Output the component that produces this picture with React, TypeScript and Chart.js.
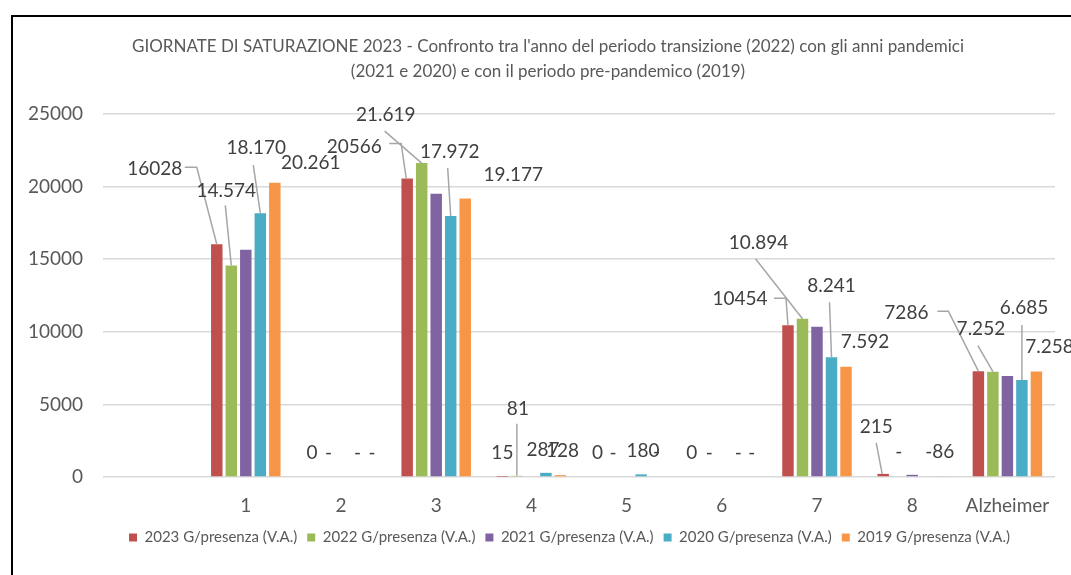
import React, { useEffect, useRef } from "react";
import { Chart, registerables } from "chart.js";

Chart.register(...registerables);

const categories = ["", "1", "2", "3", "4", "5", "6", "7", "8", "Alzheimer"];
const seriesNames = [
  "2023 G/presenza (V.A.)",
  "2022 G/presenza (V.A.)",
  "2021 G/presenza (V.A.)",
  "2020 G/presenza (V.A.)",
  "2019 G/presenza (V.A.)",
];
const values2023 = [null, 16028, 0, 20566, 15, 0, 0, 10454, 215, 7286];
const values2022 = [null, 14574, 0, 21619, 81, 0, 0, 10894, 0, 7252];
const values2021 = [null, 15650, 0, 19500, 0, 0, 0, 10350, 150, 6950];
const values2020 = [null, 18170, 0, 17972, 287, 180, 0, 8241, -86, 6685];
const values2019 = [null, 20261, 0, 19177, 128, 0, 0, 7592, 60, 7258];
const yTicks = [0, 5000, 10000, 15000, 20000, 25000];
const titleLines = [
  "GIORNATE DI SATURAZIONE 2023 - Confronto tra l'anno del periodo transizione (2022) con gli anni pandemici",
  "(2021 e 2020) e con il periodo pre-pandemico (2019)",
];
const colors = ["#C0504D", "#9BBB59", "#8064A2", "#4BACC6", "#F79646"];

// which points carry a data label (per series, per category)
const labelShown = [
  [false, true, true, true, true, true, true, true, true, true],
  [false, true, true, true, true, true, true, true, true, true],
  [false, false, false, false, false, false, false, false, false, false],
  [false, true, true, true, true, true, true, true, true, true],
  [false, true, true, true, true, true, true, true, false, true],
];

// label centre offsets from the bar end [dx, dy]
const labelOffsets: Record<number, Record<number, [number, number]>> = {
  0: { 1: [-62, -75], 2: [0, -24], 3: [-53, -32], 4: [0, -24], 5: [0, -24], 6: [-1, -24], 7: [-48, -26], 8: [-7, -47], 9: [-72, -58] },
  1: { 1: [-5, -75], 2: [2, -24], 3: [-36, -48], 4: [1, -67], 5: [1, -24], 6: [2, -24], 7: [-44, -76], 8: [1, -25], 9: [-12, -43] },
  3: { 1: [-4, -65], 2: [2, -24], 3: [-1, -64], 4: [-3, -23], 5: [2, -24], 6: [2, -24], 7: [0, -71], 8: [13, -26], 9: [2, -72] },
  4: { 1: [36, -20], 2: [2, -24], 3: [48, -24], 4: [2, -24], 5: [1, -25], 6: [1, -24], 7: [19, -25], 9: [13, -25] },
};

// leader lines: points relative to the bar end, ending at the bar
const leaders: Record<number, Record<number, [number, number][]>> = {
  0: { 1: [[-32, -77], [-20, -77], [0, 0]], 3: [[-18, -35], [-6, -35], [-1, 0]], 7: [[-14, -27], [-2, -27], [0, 0]], 8: [[-7, -31], [-1, 0]], 9: [[-41, -60], [-30, -60], [0, 0]] },
  1: { 1: [[-6, -60], [0, 0]], 3: [[-37, -32], [0, 0]], 4: [[0, -52], [0, 0]], 7: [[-47, -60], [0, 0]], 9: [[-15, -26], [0, 0]] },
  3: { 1: [[-7, -48], [0, 0]], 3: [[-3, -48], [0, 0]], 7: [[-2, -55], [0, 0]], 9: [[0, -55], [0, 0]] },
};

function fmtPlain(v: number) {
  return String(v);
}
function fmtAccounting(v: number) {
  if (v === 0) return "-";
  const s = Math.abs(v).toString().replace(/\B(?=(\d{3})+(?!\d))/g, ".");
  return (v < 0 ? "-" : "") + s;
}

const FONT = "Lato, 'Open Sans', sans-serif";

const labelPlugin = {
  id: "customLabels",
  afterLayout(chart: any) {
    if (chart.legend) {
      chart.legend.left = 84;
      chart.legend.right = 1055;
    }
  },
  afterDatasetsDraw(chart: any) {
    const ctx = chart.ctx;
    ctx.save();
    // title
    ctx.fillStyle = "#595959";
    ctx.font = `17px ${FONT}`;
    ctx.textAlign = "center";
    ctx.textBaseline = "middle";
    ctx.fillText(titleLines[0], 548, 47);
    ctx.fillText(titleLines[1], 548, 72);

    chart.data.datasets.forEach((ds: any, si: number) => {
      const meta = chart.getDatasetMeta(si);
      ds.data.forEach((v: number | null, ci: number) => {
        if (v === null || !labelShown[si][ci]) return;
        const off = labelOffsets[si] && labelOffsets[si][ci];
        if (!off) return;
        const el = meta.data[ci];
        const x = el.x;
        const y = el.y;
        const lead = leaders[si] && leaders[si][ci];
        if (lead) {
          ctx.strokeStyle = "#A6A6A6";
          ctx.lineWidth = 1.5;
          ctx.beginPath();
          lead.forEach((p, k) => {
            if (k === 0) ctx.moveTo(x + p[0], y + p[1]);
            else ctx.lineTo(x + p[0], y + p[1]);
          });
          ctx.stroke();
        }
        const text = si === 0 ? fmtPlain(v) : fmtAccounting(v);
        ctx.fillStyle = "#404040";
        ctx.font = `19px ${FONT}`;
        ctx.textAlign = "center";
        ctx.textBaseline = "middle";
        ctx.fillText(text, x + off[0], y + off[1]);
      });
    });
    ctx.restore();
  },
};

export default function App() {
  const ref = useRef<HTMLCanvasElement | null>(null);
  useEffect(() => {
    if (!ref.current) return;
    const allValues = [values2023, values2022, values2021, values2020, values2019];
    const chart = new Chart(ref.current, {
      type: "bar",
      data: {
        labels: categories,
        datasets: allValues.map((vals, i) => ({
          label: seriesNames[i],
          data: vals,
          backgroundColor: colors[i],
          borderWidth: 0,
          categoryPercentage: 0.762,
          barPercentage: 0.79,
        })),
      },
      options: {
        animation: false,
        responsive: false,
        maintainAspectRatio: false,
        layout: { padding: { left: 0, right: 16, top: 114, bottom: 20 } },
        plugins: {
          title: { display: false },
          tooltip: { enabled: false },
          legend: {
            position: "bottom",
            labels: {
              font: { family: FONT, size: 15 },
              color: "#595959",
              boxWidth: 8,
              boxHeight: 8,
              padding: 10,
            },
          },
        },
        scales: {
          x: {
            type: "category",
            grid: { display: false, drawTicks: false },
            border: { display: false },
            ticks: {
              font: { family: FONT, size: 19 },
              color: "#595959",
              padding: 17,
              autoSkip: false,
              maxRotation: 0,
            },
            afterFit(scale: any) {
              scale.height = 43;
            },
          },
          y: {
            min: 0,
            max: 25000,
            afterBuildTicks(scale: any) {
              scale.ticks = yTicks.map((v) => ({ value: v }));
            },
            grid: { color: "#D9D9D9", lineWidth: 1.5, drawTicks: false },
            border: { display: false },
            ticks: {
              font: { family: FONT, size: 19 },
              color: "#595959",
              padding: 20,
              callback: (v: any) => String(v),
            },
            afterFit(scale: any) {
              scale.width = 103;
            },
          },
        },
      },
      plugins: [labelPlugin],
    } as any);
    return () => chart.destroy();
  }, []);

  return (
    <div style={{ position: "fixed", left: 0, top: 0, width: 1071, height: 575, background: "#fff", overflow: "hidden" }}>
      <div
        style={{
          position: "absolute",
          left: 11,
          top: 15,
          width: 2000,
          height: 2000,
          borderLeft: "2px solid #000",
          borderTop: "2px solid #000",
        }}
      />
      <canvas ref={ref} width={1071} height={575} style={{ position: "absolute", left: 0, top: 0, width: 1071, height: 575 }} />
    </div>
  );
}
